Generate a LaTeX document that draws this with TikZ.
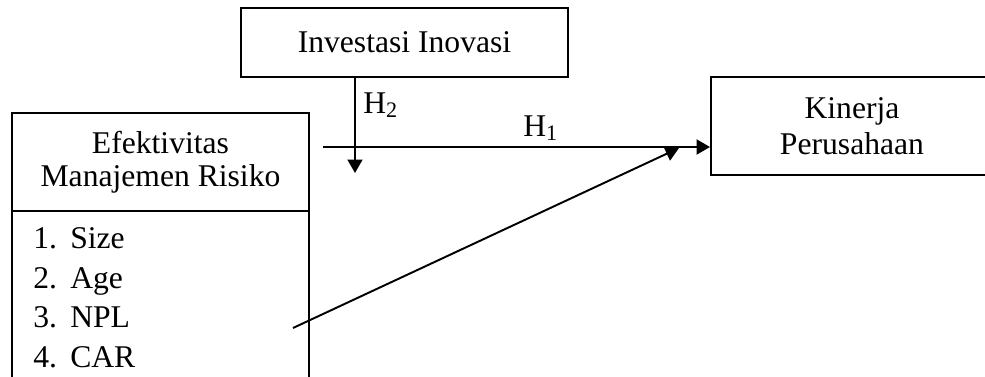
\documentclass[tikz,border=0pt]{standalone}
\usepackage{fontspec}
\setmainfont{Liberation Serif}
\usetikzlibrary{arrows.meta}

\begin{document}
\begin{tikzpicture}[
    x=0.02cm, y=-0.02cm,
    font=\fontsize{18}{20}\selectfont,
    box/.style={
        draw, line width=1.1pt, inner sep=0pt, align=center
    },
    link/.style={line width=1.1pt, -{Triangle[length=0.27cm, width=0.3cm]}},
    lbl/.style={inner sep=0pt, anchor=base west}
]
\useasboundingbox (0,0) rectangle (985,376);

% Boxes
\node[box, minimum width=6.54cm, minimum height=1.38cm] (inv) at (404.5, 42.5)
    {Investasi Inovasi};

\node[box, minimum width=5.94cm, minimum height=1.96cm,
    font=\fontsize{18}{18.7}\selectfont] (risk) at (160.5, 162)
    {Efektivitas\\Manajemen Risiko};
\node[box, minimum width=5.94cm, minimum height=3.78cm] (ind) at (160.5, 305.5) {};

\node[box, minimum width=5.64cm, minimum height=1.96cm,
    font=\fontsize{18}{20.4}\selectfont] (kin) at (852, 126)
    {Kinerja\\Perusahaan};

% Indicators
\node[lbl] (size) at (33, 248) {\makebox[0.74cm][l]{1.}Size};
\node[lbl] (age)  at (33, 288) {\makebox[0.74cm][l]{2.}Age};
\node[lbl] (npl)  at (33, 327) {\makebox[0.74cm][l]{3.}NPL};
\node[lbl] (car)  at (33, 367) {\makebox[0.74cm][l]{4.}CAR};

% Paths
\coordinate (h1start) at (323, 147);
\coordinate (h2end) at (355, 173);
\coordinate (nplend) at (293, 328);
\coordinate (meet) at (679, 148);

\draw[link] (h1start) -- (h1start -| kin.west);
\draw[link] (inv.south -| h2end) -- (h2end);
\draw[link] (nplend) -- (meet);

\node[lbl] (h1) at (523, 136) {H\textsubscript{1}};
\node[lbl] (h2) at (363, 113) {H\textsubscript{2}};

\end{tikzpicture}
\end{document}
